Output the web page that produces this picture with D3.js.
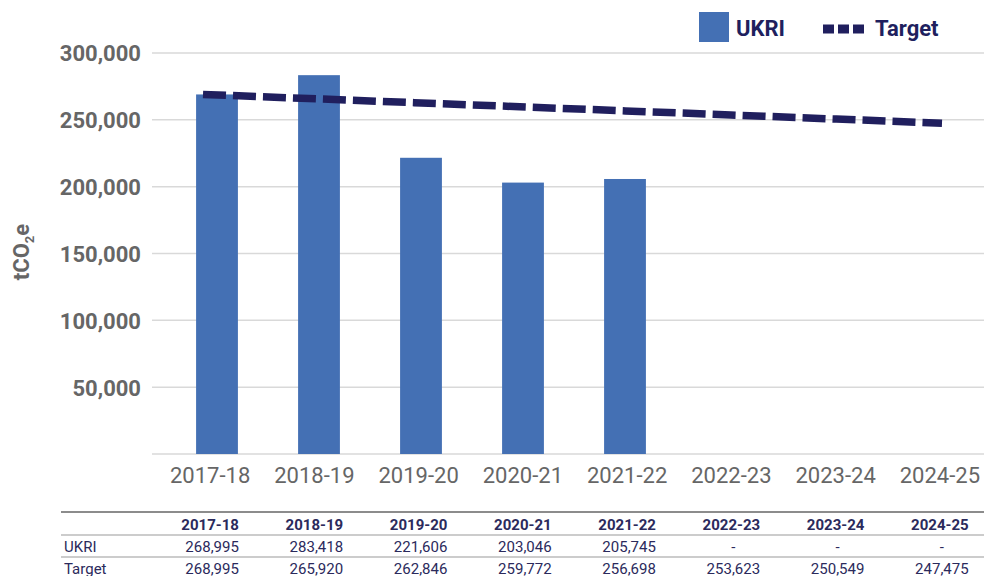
<!DOCTYPE html>
<html lang="en">
<head>
<meta charset="UTF-8">
<title>UKRI emissions</title>
<script src="https://cdn.jsdelivr.net/npm/d3@7"></script>
<style>
    body { margin: 0; background: #fff; }
    svg { font-family: Roboto, "Noto Sans", sans-serif; display: block; }
</style>
</head>
<body>
<div id="chart"></div>
<script>
// chart data
const years = ["2017-18", "2018-19", "2019-20", "2020-21", "2021-22", "2022-23", "2023-24", "2024-25"];
const ukri = [268995, 283418, 221606, 203046, 205745, null, null, null];
const target = [268995, 265920, 262846, 259772, 256698, 253623, 250549, 247475];
const yTicks = [50000, 100000, 150000, 200000, 250000, 300000];
const rowNames = ["UKRI", "Target"];

const width = 984, height = 576;
const navy = "#201f5e", barCol = "#4470b4", grey = "#666666", gridCol = "#d9d9d9";

const svg = d3.select("#chart").append("svg")
    .attr("width", width).attr("height", height);

// scales
const y = d3.scaleLinear().domain([0, 300000]).range([454, 53]);
const xBar = d3.scaleBand().domain(years).range([166, 982]).paddingInner(0.59).paddingOuter(0.295);
const xLine = d3.scalePoint().domain(years).range([203, 942]);
const xLab = d3.scaleBand().domain(years).range([158, 992]); // axis labels + table columns

// gridlines
svg.append("g").selectAll("line")
    .data([0].concat(yTicks))
    .join("line")
    .attr("x1", 152).attr("x2", width)
    .attr("y1", d => y(d)).attr("y2", d => y(d))
    .attr("stroke", gridCol).attr("stroke-width", 1.5);

// y axis labels
const yAxis = svg.append("g")
    .attr("transform", "translate(141,0)")
    .call(d3.axisLeft(y).tickValues(yTicks).tickFormat(d3.format(",")).tickSize(0).tickPadding(0));
yAxis.select(".domain").remove();
yAxis.selectAll("text")
    .attr("fill", grey).attr("font-size", 22).attr("font-weight", "bold")
    .attr("font-family", "Roboto, sans-serif").attr("dy", "0.36em");

// y axis title tCO2e
const yt = svg.append("text")
    .attr("transform", "translate(29,252) rotate(-90)")
    .attr("text-anchor", "middle")
    .attr("fill", grey).attr("font-size", 22).attr("font-weight", "bold");
yt.append("tspan").text("tCO");
yt.append("tspan").text("2").attr("font-size", 13).attr("dy", 5);
yt.append("tspan").text("e").attr("dy", -5);

// bars
svg.append("g").selectAll("rect")
    .data(years.map((yr, i) => ({ yr, v: ukri[i] })).filter(d => d.v != null))
    .join("rect")
    .attr("x", d => xBar(d.yr))
    .attr("width", xBar.bandwidth())
    .attr("y", d => y(d.v))
    .attr("height", d => y(0) - y(d.v))
    .attr("fill", barCol);

// target line
const line = d3.line().x((d, i) => xLine(years[i])).y(d => y(d));
svg.append("path")
    .datum(target)
    .attr("d", line)
    .attr("fill", "none")
    .attr("stroke", navy)
    .attr("stroke-width", 7.5)
    .attr("stroke-dasharray", "23,7");

// x axis labels
const xAxis = svg.append("g")
    .attr("transform", "translate(0,466)")
    .call(d3.axisBottom(xLab).tickSize(0).tickPadding(0));
xAxis.select(".domain").remove();
xAxis.selectAll("text")
    .attr("fill", grey).attr("font-size", 22)
    .attr("font-family", "Roboto, sans-serif").attr("dy", "0.75em");

// legend
const leg = svg.append("g");
leg.append("rect").attr("x", 699).attr("y", 12).attr("width", 30).attr("height", 30).attr("fill", barCol);
leg.append("text").attr("x", 736).attr("y", 36).text("UKRI")
    .attr("fill", navy).attr("font-size", 22).attr("font-weight", "bold");
leg.append("line").attr("x1", 823).attr("x2", 866).attr("y1", 29).attr("y2", 29)
    .attr("stroke", navy).attr("stroke-width", 9).attr("stroke-dasharray", "11,4");
leg.append("text").attr("x", 875).attr("y", 36).text("Target")
    .attr("fill", navy).attr("font-size", 22).attr("font-weight", "bold");

// data table
const tbl = svg.append("g");
const ruleY = [512, 535, 557];
tbl.selectAll("line")
    .data(ruleY)
    .join("line")
    .attr("x1", 61).attr("x2", width)
    .attr("y1", d => d).attr("y2", d => d)
    .attr("stroke", (d, i) => i === 0 ? "#666" : "#999").attr("stroke-width", (d, i) => i === 0 ? 1.5 : 1.2);

tbl.selectAll("text.hd")
    .data(years)
    .join("text").attr("class", "hd")
    .attr("x", d => xLab(d) + xLab.bandwidth() / 2)
    .attr("y", 530)
    .attr("text-anchor", "middle")
    .attr("fill", "#2b2a5c").attr("font-size", 15).attr("font-weight", "bold")
    .text(d => d);

const rows = [ukri, target];
const fmt = d3.format(",");
rows.forEach((vals, r) => {
    const ry = 552 + r * 22;
    tbl.append("text").attr("x", 64).attr("y", ry).text(rowNames[r])
        .attr("fill", "#2b2a5c").attr("font-size", 15);
    tbl.selectAll("text.r" + r)
        .data(vals)
        .join("text").attr("class", "r" + r)
        .attr("x", (d, i) => xLab(years[i]) + xLab.bandwidth() / 2 + 2)
        .attr("y", ry)
        .attr("text-anchor", "middle")
        .attr("fill", "#2b2a5c").attr("font-size", 15)
        .text(d => d == null ? "-" : fmt(d));
});
</script>
</body>
</html>
